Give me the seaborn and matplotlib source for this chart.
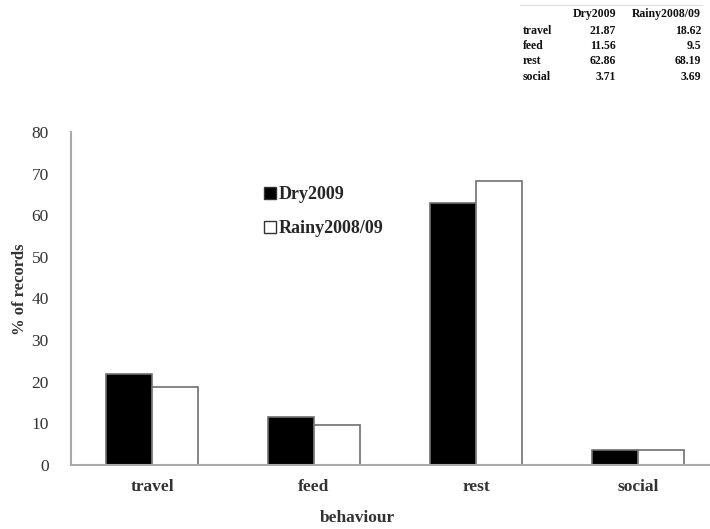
import matplotlib
matplotlib.use("Agg")
import matplotlib.pyplot as plt
import seaborn as sns
import pandas as pd
from matplotlib.patches import Patch

behaviours = ["travel", "feed", "rest", "social"]
dry_2009 = [21.87, 11.56, 62.86, 3.71]
rainy_2008_09 = [18.62, 9.5, 68.19, 3.69]
seasons = ["Dry2009", "Rainy2008/09"]
y_ticks = [0, 10, 20, 30, 40, 50, 60, 70, 80]

df = pd.DataFrame({
    "behaviour": behaviours * 2,
    "season": [seasons[0]] * 4 + [seasons[1]] * 4,
    "pct": dry_2009 + rainy_2008_09,
})

sns.set_style("white")
plt.rcParams["font.family"] = ["Liberation Serif", "DejaVu Serif"]

fig = plt.figure(figsize=(7.1, 5.29), dpi=100)
ax = fig.add_axes([71 / 710, 1 - 465 / 529, 648 / 710, 333 / 529])

sns.barplot(data=df, x="behaviour", y="pct", hue="season",
            palette=["black", "white"], edgecolor="#707070", linewidth=1.2,
            width=0.57, ax=ax, legend=False)

ax.set_ylim(0, 80)
ax.set_yticks(y_ticks)
ax.set_xlim(-0.5, 3.5)
ax.tick_params(axis="both", length=0, colors="#333333")
ax.tick_params(axis="y", labelsize=12.5, pad=16)
ax.tick_params(axis="x", labelsize=12.5, pad=10)
for lbl in ax.get_xticklabels():
    lbl.set_fontweight("bold")
ax.set_xlabel("")
ax.set_ylabel("")
for side in ["top", "right"]:
    ax.spines[side].set_visible(False)
for side in ["left", "bottom"]:
    ax.spines[side].set_color("#aaaaaa")
    ax.spines[side].set_linewidth(1.5)

fig.text(20 / 710, 1 - 289 / 529, "% of records", rotation=90, ha="center",
         va="center", fontsize=12, fontweight="bold", color="#333333")
fig.text(357 / 710, 1 - 518 / 529, "behaviour", ha="center", va="center",
         fontsize=12.5, fontweight="bold", color="#333333")

# legend
handles = [Patch(facecolor="black", edgecolor="#333333"),
           Patch(facecolor="white", edgecolor="#333333")]
ax.legend(handles, seasons, loc="upper left", frameon=False,
          bbox_to_anchor=(248 / 710, 1 - 170 / 529), bbox_transform=fig.transFigure,
          prop={"size": 13, "weight": "bold"}, handlelength=0.65, handleheight=0.65,
          handletextpad=0.15, labelspacing=0.95)

# data table top right
fig.add_artist(plt.Line2D([520 / 710, 702 / 710], [1 - 5 / 529, 1 - 5 / 529],
                          color="#dddddd", lw=0.8))
tkw = dict(fontsize=8.5, fontweight="bold", color="#111111", va="center")
fig.text(616 / 710, 1 - 14 / 529, seasons[0], ha="right", **tkw)
fig.text(701 / 710, 1 - 14 / 529, seasons[1], ha="right", **tkw)
for i, b in enumerate(behaviours):
    y = 1 - (31 + i * 15.2) / 529
    fig.text(523 / 710, y, b, ha="left", **tkw)
    fig.text(616 / 710, y, f"{dry_2009[i]:g}", ha="right", **tkw)
    fig.text(701 / 710, y, f"{rainy_2008_09[i]:g}", ha="right", **tkw)

fig.savefig("out.png", dpi=100)
